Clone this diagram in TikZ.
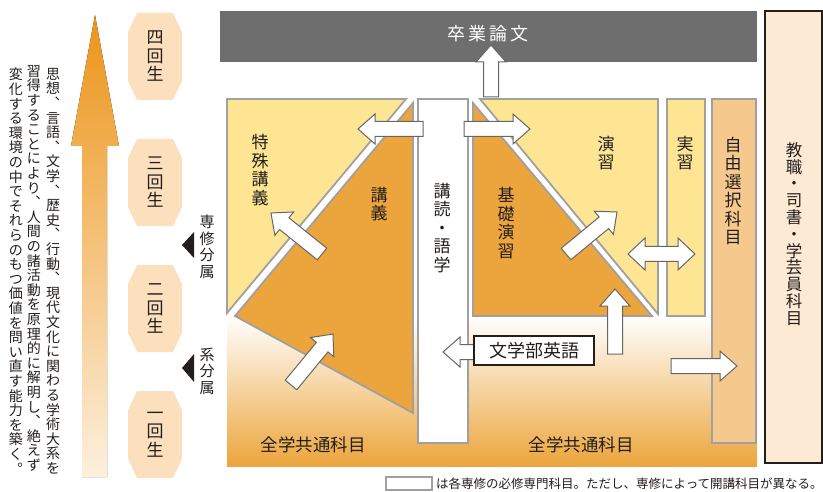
\documentclass[tikz,border=0pt]{standalone}
\usepackage{fontspec}
\setmainfont{Noto Sans CJK JP}
\usetikzlibrary{calc}
\definecolor{paleyellow}{RGB}{253,229,148}
\definecolor{deeporange}{RGB}{236,165,60}
\definecolor{edgegray}{RGB}{160,160,160}
\definecolor{bargray}{RGB}{110,110,110}
\definecolor{freeorange}{RGB}{245,201,141}
\definecolor{peach}{RGB}{253,234,212}
\definecolor{yearpeach}{RGB}{252,224,189}
\definecolor{inkblack}{RGB}{35,30,28}
\definecolor{arrowtop}{RGB}{236,148,24}
\definecolor{arrowbottom}{RGB}{253,240,222}

\tikzset{
  panel/.style={draw=edgegray, line width=1.8pt},
  bigarrow/.style={draw=black!60, fill=white, line width=1pt},
  vlabel/.style={align=center, inner sep=0pt, text=inkblack, font=\fontsize{17}{18.5}\selectfont},
  para/.style={align=center, anchor=north, inner sep=0pt, text=inkblack, font=\fontsize{14}{14.6}\selectfont},
}

% white block arrow from one named point to another
\newcommand{\fatarrow}[2]{%
  \path ($(#2)!17pt!(#1)$) coordinate (hb);
  \draw[bigarrow] ($(#1)!7.5pt!90:(#2)$) -- ($(hb)!7.5pt!90:(#2)$) -- ($(hb)!15pt!90:(#2)$) -- (#2)
    -- ($(hb)!15pt!-90:(#2)$) -- ($(hb)!7.5pt!-90:(#2)$) -- ($(#1)!7.5pt!-90:(#2)$) -- cycle;}

\begin{document}
\begin{tikzpicture}[x=1pt,y=-1pt]
\useasboundingbox (0,0) rectangle (823,492);

% left side
\fill[top color=arrowtop, bottom color=arrowbottom] (95,15) -- (119,146) -- (107,146) -- (107,477)
  -- (82,477) -- (82,146) -- (71,146) -- cycle;
\node[para] (col1) at (53,68) {思\\想\\︑\\言\\語\\︑\\文\\学\\︑\\歴\\史\\︑\\行\\動\\︑\\現\\代\\文\\化\\に\\関\\わ\\る\\学\\術\\大\\系\\を};
\node[para] (col2) at (34,65) {習\\得\\す\\る\\こ\\と\\に\\よ\\り\\︑\\人\\間\\の\\諸\\活\\動\\を\\原\\理\\的\\に\\解\\明\\し\\︑\\絶\\え\\ず};
\node[para] (col3) at (16,68) {変\\化\\す\\る\\環\\境\\の\\中\\で\\そ\\れ\\ら\\の\\も\\つ\\価\\値\\を\\問\\い\\直\\す\\能\\力\\を\\築\\く\\︒};

\foreach \cy/\lab/\nm in {56.5/{四\\回\\生}/four, 182.5/{三\\回\\生}/three, 308.5/{二\\回\\生}/two, 434.5/{一\\回\\生}/one}{
  \fill[yearpeach] (137,\cy-43.5) -- (173,\cy-43.5) -- (182,\cy-24.5) -- (182,\cy+24.5)
    -- (173,\cy+43.5) -- (137,\cy+43.5) -- (128,\cy+24.5) -- (128,\cy-24.5) -- cycle;
  \node[vlabel, font=\fontsize{17}{18.5}\selectfont] (year\nm) at (155,\cy) {\lab};
}

\fill[inkblack] (182,245) -- (194,232) -- (194,258) -- cycle;
\fill[inkblack] (182,368) -- (194,354) -- (194,382) -- cycle;
\node[vlabel, font=\fontsize{15}{16.5}\selectfont] (senshu) at (207,247) {専\\修\\分\\属};
\node[vlabel, font=\fontsize{15}{16.5}\selectfont] (kei) at (207,371) {系\\分\\属};

% panels
\shade[top color=white, bottom color=deeporange] (227,316) rectangle (757,466);
\filldraw[panel, fill=paleyellow] (227,99) -- (406,99) -- (227,313) -- cycle;
\filldraw[panel, fill=deeporange] (413,103) -- (413,413) -- (235,316) -- cycle;
\filldraw[panel, fill=deeporange] (473,103) -- (473,316) -- (652,316) -- cycle;
\filldraw[panel, fill=paleyellow] (480,99) -- (658,99) -- (658,314) -- cycle;
\filldraw[panel, fill=white] (418,99) rectangle (468,443);
\filldraw[panel, fill=paleyellow] (667,99) rectangle (705,316);
\filldraw[panel, fill=freeorange] (712,99) rectangle (756,443);
\fill[bargray] (220,11) rectangle (757,62);
\filldraw[draw=inkblack, line width=1.2pt, fill=peach] (765,11) rectangle (822,463);

\node[text=white, font=\fontsize{18}{20}\selectfont] (thesis) at (488,34) {卒\hspace{3pt}業\hspace{3pt}論\hspace{3pt}文};
\node[vlabel] (tokushu) at (260,170) {特\\殊\\講\\義};
\node[vlabel] (kogi) at (379,204) {講\\義};
\node[vlabel] (kodoku) at (442,228) {講\\読\\・\\語\\学};
\node[vlabel] (kiso) at (506,223) {基\\礎\\演\\習};
\node[vlabel] (enshu) at (606,153) {演\\習};
\node[vlabel] (jisshu) at (685,153) {実\\習};
\node[vlabel] (jiyu) at (733,191) {自\\由\\選\\択\\科\\目};
\node[vlabel, font=\fontsize{16.5}{16.8}\selectfont] (kyoshoku) at (794,234) {教\\職\\・\\司\\書\\・\\学\\芸\\員\\科\\目};
\node[text=inkblack, font=\fontsize{17.5}{20}\selectfont] (commonL) at (313,445) {全学共通科目};
\node[text=inkblack, font=\fontsize{17.5}{20}\selectfont] (commonR) at (581,445) {全学共通科目};

% arrows
\coordinate (thS) at (491,97);   \coordinate (thE) at (491,45);
\coordinate (tlS) at (423,129);  \coordinate (tlE) at (358,129);
\coordinate (trS) at (464,129);  \coordinate (trE) at (530,129);
\coordinate (ulS) at (322,254);  \coordinate (ulE) at (271,213);
\coordinate (urS) at (566,254);  \coordinate (urE) at (617,212);
\coordinate (llS) at (291,385);  \coordinate (llE) at (333,334);
\coordinate (egS) at (490,352);  \coordinate (egE) at (443,352);
\coordinate (upS) at (615,354);  \coordinate (upE) at (615,289);
\coordinate (frS) at (671,366);  \coordinate (frE) at (737,366);
\foreach \a in {th,tl,tr,ul,ur,ll,eg,up,fr}
  \fatarrow{\a S}{\a E};
\draw[bigarrow] (628,254) -- (645,238) -- (645,246.5) -- (678,246.5) -- (678,238) -- (695,254)
  -- (678,270) -- (678,261.5) -- (645,261.5) -- (645,270) -- cycle;

\node[draw=inkblack, line width=1.2pt, fill=white, minimum width=120, minimum height=29, inner sep=0pt,
  text=inkblack, font=\fontsize{18}{20}\selectfont] (eigo) at (534,350.5) {文学部英語};

% legend
\draw[edgegray, line width=1.2pt, fill=white] (386,477) rectangle (432,490);
\node[anchor=west, inner sep=0pt, text=inkblack, font=\fontsize{12.5}{14}\selectfont] (legend) at (436,484)
  {は各専修の必修専門科目。ただし、専修によって開講科目が異なる。};

\end{tikzpicture}
\end{document}
